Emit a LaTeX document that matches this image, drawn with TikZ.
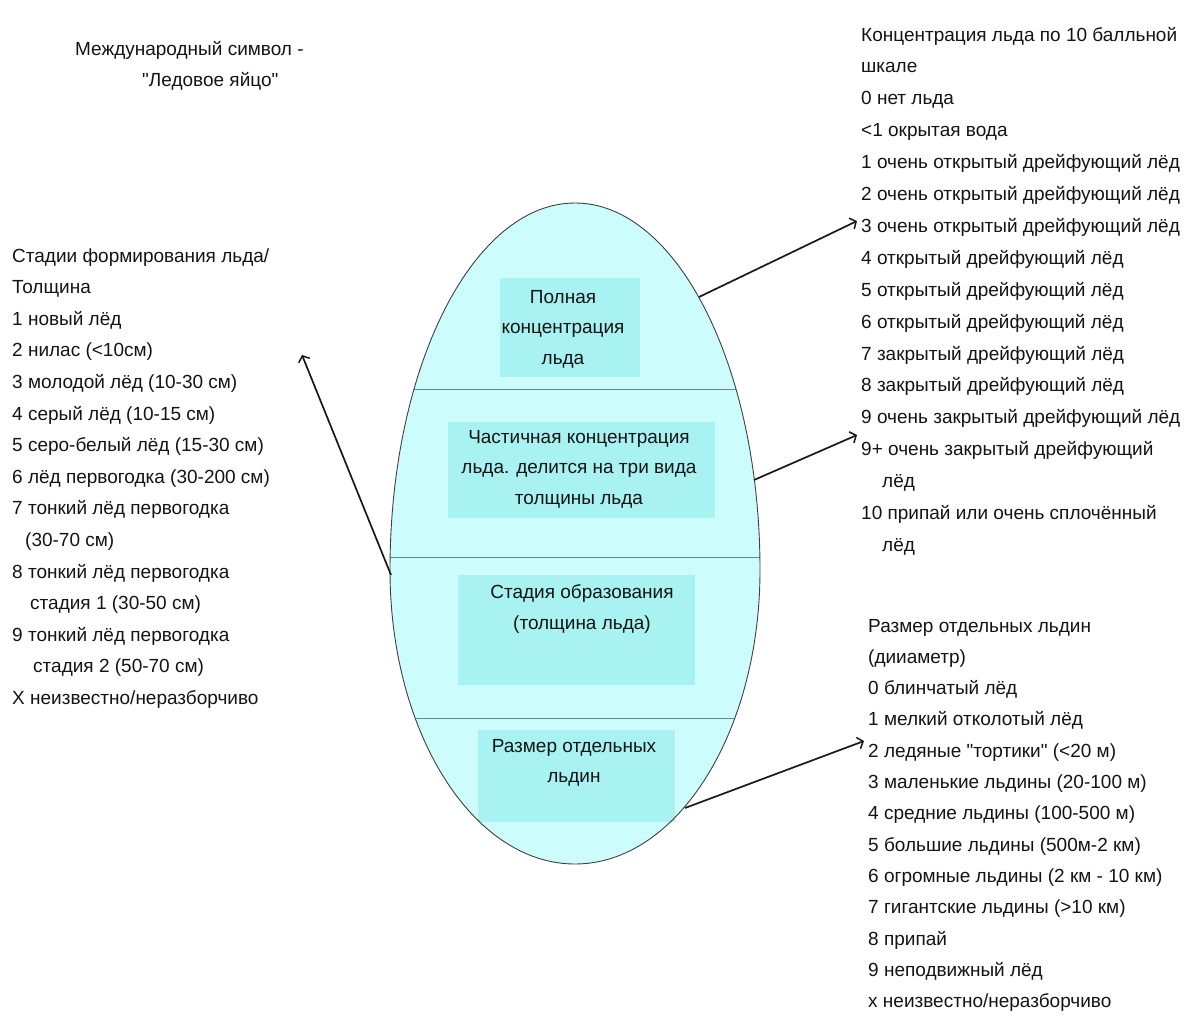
\documentclass[tikz,border=0pt]{standalone}
\usepackage{fontspec}
\setmainfont{Liberation Sans}
\usetikzlibrary{arrows.meta}
\definecolor{eggfill}{HTML}{CCFCFC}
\definecolor{boxfill}{HTML}{A8F2F2}
\definecolor{divline}{HTML}{5E8C8C}
\definecolor{ink}{HTML}{141414}
\tikzset{
  txt/.style={anchor=base west, inner sep=0pt, text=ink, font=\fontsize{19}{23}\selectfont},
  eggtxt/.style={inner sep=0pt, align=center, text=ink, font=\fontsize{19}{30.5}\selectfont},
  boxnode/.style={fill=boxfill, draw=none, inner sep=0pt},
  arr/.style={draw=black!90, line width=1.7pt, -{Straight Barb[length=5pt,width=12pt,line width=1.5pt]}},
}
\begin{document}
\begin{tikzpicture}[x=1pt,y=-1pt]
\useasboundingbox (0,0) rectangle (1189,1017);
\fill[white] (0,0) rectangle (1189,1017);
% egg
\def\eggpath{(390,570) arc[start angle=180,end angle=360,x radius=185,y radius=367] arc[start angle=0,end angle=180,x radius=185,y radius=294] -- cycle}
\fill[eggfill] \eggpath;
% inner boxes
\node[boxnode, minimum width=140, minimum height=99] (b1) at (570,327.5) {};
\node[boxnode, minimum width=267, minimum height=96] (b2) at (581.5,470) {};
\node[boxnode, minimum width=237, minimum height=110] (b3) at (576.5,630) {};
\node[boxnode, minimum width=197, minimum height=92] (b4) at (576.5,776) {};
% dividing lines
\begin{scope}
\clip \eggpath;
\draw[divline, line width=1pt] (350,389) -- (800,389);
\draw[divline, line width=1pt] (350,557) -- (800,557);
\draw[divline, line width=1pt] (350,718) -- (800,718);
\end{scope}
\draw[black!75, line width=0.9pt] \eggpath;
% egg texts
\node[eggtxt] (c1) at (563,329) {Полная\\концентрация\\льда};
\node[eggtxt] (c2) at (579,469) {Частичная концентрация\\льда. делится на три вида\\толщины льда};
\node[eggtxt] (c3) at (582,609) {Стадия образования\\(толщина льда)};
\node[eggtxt] (c4) at (574,763) {Размер отдельных\\льдин};
% title
\node[txt] (T1) at (75,55) {Международный символ -};
\node[txt] (T2) at (142,86) {\textquotedbl Ледовое яйцо\textquotedbl};
% left column
\foreach \t [count=\i from 0] in {
{Стадии формирования льда/},
{Толщина},
{1 новый лёд},
{2 нилас (<10см)},
{3 молодой лёд (10-30 см)},
{4 серый лёд (10-15 см)},
{5 серо-белый лёд (15-30 см)},
{6 лёд первогодка (30-200 см)},
{7 тонкий лёд первогодка},
{\hspace*{13pt}(30-70 см)},
{8 тонкий лёд первогодка},
{\hspace*{18pt}стадия 1 (30-50 см)},
{9 тонкий лёд первогодка},
{\hspace*{21pt}стадия 2 (50-70 см)},
{X неизвестно/неразборчиво}}
\node[txt] (L\i) at (12,{262+31.6*\i}) {\t};
% right top column
\foreach \t [count=\i from 0] in {
{Концентрация льда по 10 балльной},
{шкале},
{0 нет льда},
{<1 окрытая вода},
{1 очень открытый дрейфующий лёд},
{2 очень открытый дрейфующий лёд},
{3 очень открытый дрейфующий лёд},
{4 открытый дрейфующий лёд},
{5 открытый дрейфующий лёд},
{6 открытый дрейфующий лёд},
{7 закрытый дрейфующий лёд},
{8 закрытый дрейфующий лёд},
{9 очень закрытый дрейфующий лёд},
{9+ очень закрытый дрейфующий},
{\hspace*{21pt}лёд},
{10 припай или очень сплочённый},
{\hspace*{21pt}лёд}}
\node[txt] (R\i) at (861,{41+31.9*\i}) {\t};
% right bottom column
\foreach \t [count=\i from 0] in {
{Размер отдельных льдин},
{(дииаметр)},
{0 блинчатый лёд},
{1 мелкий отколотый лёд},
{2 ледяные \textquotedbl тортики\textquotedbl{} (<20 м)},
{3 маленькие льдины (20-100 м)},
{4 средние льдины (100-500 м)},
{5 большие льдины (500м-2 км)},
{6 огромные льдины (2 км - 10 км)},
{7 гигантские льдины (>10 км)},
{8 припай},
{9 неподвижный лёд},
{х неизвестно/неразборчиво}}
\node[txt] (S\i) at (868,{632+31.33*\i}) {\t};
% arrows
\coordinate (s1) at (391,575);
\coordinate (t1) at (302,355);
\coordinate (s2) at (699,297);
\coordinate (t2) at (857,221);
\coordinate (s3) at (754,480);
\coordinate (t3) at (857,435);
\coordinate (s4) at (685,808);
\coordinate (t4) at (864,741);
\draw[arr] (s1) -- (t1);
\draw[arr] (s2) -- (t2);
\draw[arr] (s3) -- (t3);
\draw[arr] (s4) -- (t4);
\end{tikzpicture}
\end{document}
